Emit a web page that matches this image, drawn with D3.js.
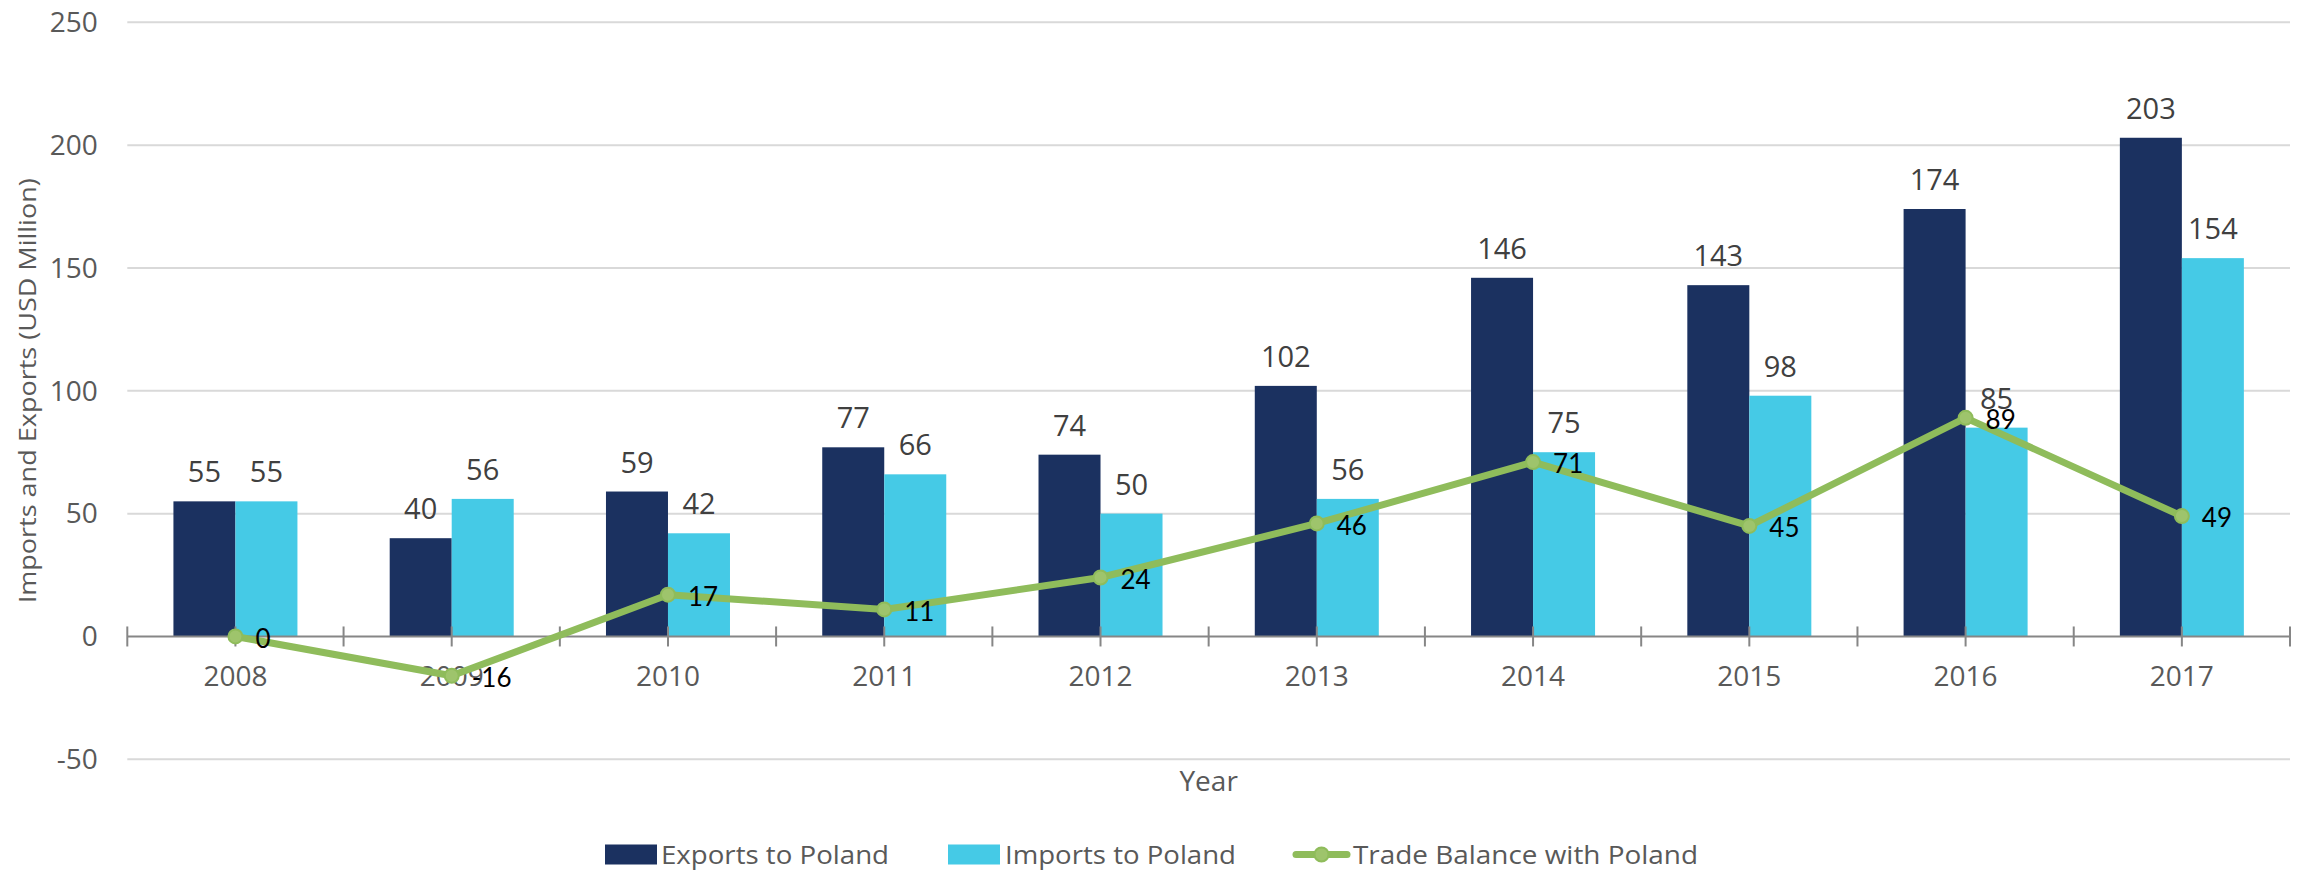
<!DOCTYPE html>
<html>
<head>
<meta charset="utf-8">
<script src="https://cdn.jsdelivr.net/npm/d3@7"></script>
<style>
  html, body { margin: 0; padding: 0; background: #fff; }
  svg { display: block; }
</style>
</head>
<body>
<svg id="chart" width="2303" height="872"></svg>
<script>
const years = ["2008","2009","2010","2011","2012","2013","2014","2015","2016","2017"];
const exportsToPoland = [55, 40, 59, 77, 74, 102, 146, 143, 174, 203];
const importsToPoland = [55, 56, 42, 66, 50, 56, 75, 98, 85, 154];
const tradeBalance = [0, -16, 17, 11, 24, 46, 71, 45, 89, 49];
const yTicks = [-50, 0, 50, 100, 150, 200, 250];
const seriesNames = ["Exports to Poland", "Imports to Poland", "Trade Balance with Poland"];

(function () {
const svg = d3.select("#chart");
const pL = 127.3, pR = 2290, pT = 22.3, pB = 759.3;
const FONT = "'Open Sans', 'Noto Sans', sans-serif";

const x = d3.scaleBand().domain(years).range([pL, pR]).padding(0);
const bw = x.bandwidth();
const x1 = d3.scaleBand().domain(["exp","imp"]).range([0, bw]).paddingInner(0).paddingOuter(0.744);
const y = d3.scaleLinear().domain([-50, 250]).range([pB, pT]);

const colExp = "#1B3160", colImp = "#45CAE6", colLine = "#8FBC5B", colMarker = "#9EC46C";

// gridlines
svg.append("g").selectAll("line").data(yTicks.filter(d => d !== 0)).join("line")
  .attr("x1", pL).attr("x2", pR)
  .attr("y1", d => y(d)).attr("y2", d => y(d))
  .attr("stroke", "#D9D9D9").attr("stroke-width", 2);

// y tick labels
svg.append("g").selectAll("text").data(yTicks).join("text")
  .attr("x", 97.7).attr("y", d => y(d)).attr("dy", "0.35em")
  .attr("text-anchor", "end")
  .attr("font-family", FONT).attr("font-size", 28).attr("fill", "#595959")
  .text(d => d);

// y axis title
svg.append("text")
  .attr("transform", `translate(36, ${(pT + pB) / 2}) rotate(-90)`)
  .attr("text-anchor", "middle")
  .attr("font-family", FONT).attr("font-size", 24).attr("fill", "#595959")
  .attr("textLength", 425).attr("lengthAdjust", "spacingAndGlyphs")
  .text("Imports and Exports (USD Million)");

// bars
const g = svg.append("g");
g.selectAll("rect.exp").data(years).join("rect").attr("class", "exp")
  .attr("x", d => x(d) + x1("exp")).attr("width", x1.bandwidth())
  .attr("y", (d, i) => y(exportsToPoland[i]))
  .attr("height", (d, i) => y(0) - y(exportsToPoland[i]))
  .attr("fill", colExp);
g.selectAll("rect.imp").data(years).join("rect").attr("class", "imp")
  .attr("x", d => x(d) + x1("imp")).attr("width", x1.bandwidth())
  .attr("y", (d, i) => y(importsToPoland[i]))
  .attr("height", (d, i) => y(0) - y(importsToPoland[i]))
  .attr("fill", colImp);

// bar labels
g.selectAll("text.lexp").data(years).join("text").attr("class", "lexp")
  .attr("x", d => x(d) + x1("exp") + x1.bandwidth() / 2)
  .attr("y", (d, i) => y(exportsToPoland[i]) - 19)
  .attr("text-anchor", "middle")
  .attr("font-family", FONT).attr("font-size", 29).attr("fill", "#404040")
  .text((d, i) => exportsToPoland[i]);
g.selectAll("text.limp").data(years).join("text").attr("class", "limp")
  .attr("x", d => x(d) + x1("imp") + x1.bandwidth() / 2)
  .attr("y", (d, i) => y(importsToPoland[i]) - 19)
  .attr("text-anchor", "middle")
  .attr("font-family", FONT).attr("font-size", 29).attr("fill", "#404040")
  .text((d, i) => importsToPoland[i]);

// x axis
const y0 = y(0);
svg.append("line").attr("x1", pL).attr("x2", pR).attr("y1", y0).attr("y2", y0)
  .attr("stroke", "#868686").attr("stroke-width", 2);
const tickXs = [];
years.forEach(d => { tickXs.push(x(d)); tickXs.push(x(d) + bw / 2); });
tickXs.push(pR);
svg.append("g").selectAll("line").data(tickXs).join("line")
  .attr("x1", d => d).attr("x2", d => d)
  .attr("y1", y0 - 10).attr("y2", y0 + 10)
  .attr("stroke", "#868686").attr("stroke-width", 2);

// x tick labels
svg.append("g").selectAll("text").data(years).join("text")
  .attr("x", d => x(d) + bw / 2).attr("y", 686)
  .attr("text-anchor", "middle")
  .attr("font-family", FONT).attr("font-size", 28).attr("fill", "#595959")
  .text(d => d);

// x axis title
svg.append("text").attr("x", (pL + pR) / 2).attr("y", 791)
  .attr("text-anchor", "middle")
  .attr("font-family", FONT).attr("font-size", 28).attr("fill", "#595959")
  .text("Year");

// line
const line = d3.line().x((d, i) => x(years[i]) + bw / 2).y(d => y(d));
svg.append("path").datum(tradeBalance).attr("d", line)
  .attr("fill", "none").attr("stroke", colLine).attr("stroke-width", 7)
  .attr("stroke-linejoin", "round").attr("stroke-linecap", "round");
svg.append("g").selectAll("circle").data(tradeBalance).join("circle")
  .attr("cx", (d, i) => x(years[i]) + bw / 2).attr("cy", d => y(d)).attr("r", 7)
  .attr("fill", colMarker).attr("stroke", colLine).attr("stroke-width", 2);
svg.append("g").selectAll("text").data(tradeBalance).join("text")
  .attr("x", (d, i) => x(years[i]) + bw / 2 + 20).attr("y", d => y(d) + 2)
  .attr("dy", "0.35em")
  .attr("font-family", "Lato, 'Open Sans', sans-serif").attr("font-size", 26).attr("fill", "#000")
  .text(d => d);

// legend
const ly = 854.5;
const leg = svg.append("g");
leg.append("rect").attr("x", 605).attr("y", ly - 10).attr("width", 52).attr("height", 20).attr("fill", colExp);
leg.append("text").attr("x", 661).attr("y", ly).attr("dy", "0.35em")
  .attr("font-family", FONT).attr("font-size", 26).attr("fill", "#595959")
  .attr("textLength", 228).attr("lengthAdjust", "spacingAndGlyphs")
  .text(seriesNames[0]);
leg.append("rect").attr("x", 948).attr("y", ly - 10).attr("width", 52).attr("height", 20).attr("fill", colImp);
leg.append("text").attr("x", 1005).attr("y", ly).attr("dy", "0.35em")
  .attr("font-family", FONT).attr("font-size", 26).attr("fill", "#595959")
  .attr("textLength", 231).attr("lengthAdjust", "spacingAndGlyphs")
  .text(seriesNames[1]);
leg.append("line").attr("x1", 1296).attr("x2", 1347).attr("y1", ly).attr("y2", ly)
  .attr("stroke", colLine).attr("stroke-width", 7).attr("stroke-linecap", "round");
leg.append("circle").attr("cx", 1321.5).attr("cy", ly).attr("r", 7)
  .attr("fill", colMarker).attr("stroke", colLine).attr("stroke-width", 2);
leg.append("text").attr("x", 1353).attr("y", ly).attr("dy", "0.35em")
  .attr("font-family", FONT).attr("font-size", 26).attr("fill", "#595959")
  .attr("textLength", 345).attr("lengthAdjust", "spacingAndGlyphs")
  .text(seriesNames[2]);
})();
</script>
</body>
</html>
